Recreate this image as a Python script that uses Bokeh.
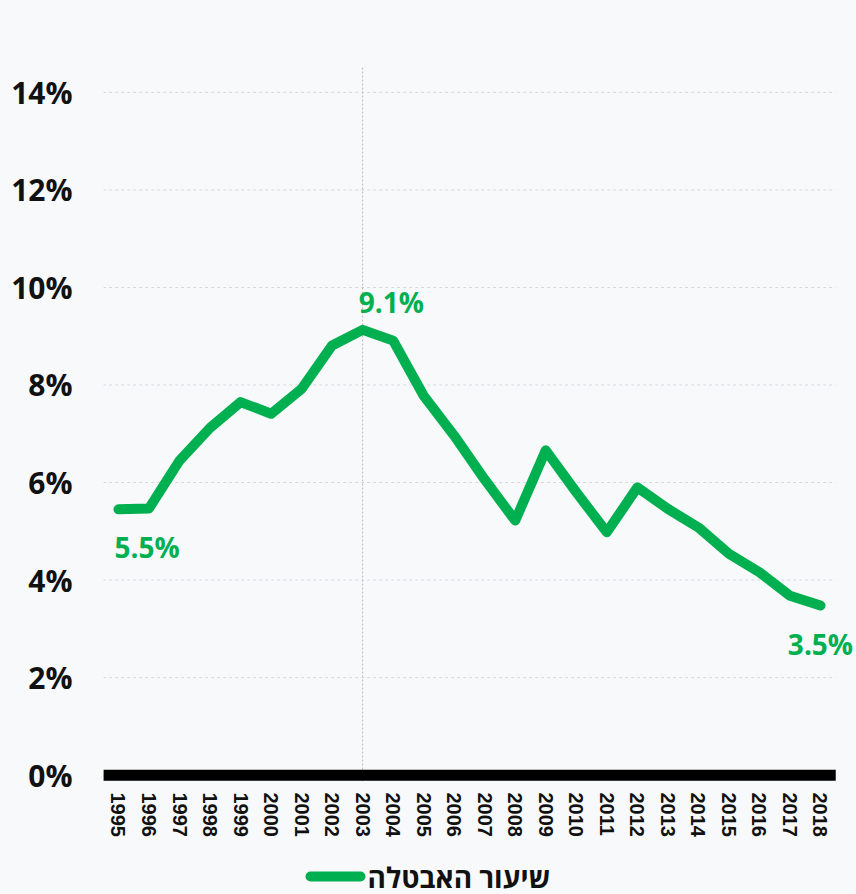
from bokeh.plotting import figure
from bokeh.layouts import column
from bokeh.models import FixedTicker, Span, ColumnDataSource, Range1d
from bokeh.core.properties import value
from bokeh.embed import file_html
from bokeh.resources import INLINE

# ---- data ----
years = list(range(1995, 2019))
rates = [5.45, 5.47, 6.45, 7.12, 7.65, 7.41, 7.92, 8.81, 9.13, 8.91, 7.78, 6.96,
         6.06, 5.22, 6.66, 5.80, 4.98, 5.90, 5.46, 5.08, 4.54, 4.16, 3.68, 3.48]
y_ticks = [0, 2, 4, 6, 8, 10, 12, 14]
y_tick_labels = ["0%", "2%", "4%", "6%", "8%", "10%", "12%", "14%"]
label_years = [1995, 2003, 2018]
label_texts = ["5.5%", "9.1%", "3.5%"]
series_name = "שיעור האבטלה"
highlight_year = 2003

# ---- style ----
BG = "#f8f9fb"
GREEN = "#00b050"
x_lo, x_hi = years[0] - 0.5, years[-1] + 0.5

fig = figure(width=856, height=850, x_range=(1994.51, 2019.18), y_range=(-0.13, 14.51),
             output_backend="svg", toolbar_location=None,
             background_fill_color=BG, border_fill_color=BG,
             min_border_left=103, min_border_right=0, min_border_top=67, min_border_bottom=69)
fig.outline_line_color = None
fig.xgrid.grid_line_color = None
fig.ygrid.grid_line_color = None

# dotted horizontal grid limited to the category band
fig.segment(x0=[x_lo] * len(y_ticks), x1=[x_hi] * len(y_ticks), y0=y_ticks, y1=y_ticks,
            line_color="#d6d8dc", line_dash="3 3", line_width=1, level="underlay")

# y axis
fig.yaxis.ticker = FixedTicker(ticks=y_ticks)
fig.yaxis.major_label_overrides = {t: l for t, l in zip(y_ticks, y_tick_labels)}
fig.yaxis.axis_line_color = None
fig.yaxis.major_tick_line_color = None
fig.yaxis.minor_tick_line_color = None
fig.yaxis.major_tick_out = 0
fig.yaxis.major_tick_in = 0
fig.yaxis.major_label_standoff = 31
fig.yaxis.major_label_text_font = "Open Sans"
fig.yaxis.major_label_text_font_style = "bold"
fig.yaxis.major_label_text_font_size = "30px"
fig.yaxis.major_label_text_color = "#111111"

# x axis (labels only; baseline bar drawn below)
fig.xaxis.ticker = FixedTicker(ticks=years)
fig.xaxis.major_label_overrides = {y: str(y) for y in years}
fig.xaxis.axis_line_color = None
fig.xaxis.major_tick_line_color = None
fig.xaxis.minor_tick_line_color = None
fig.xaxis.major_tick_out = 0
fig.xaxis.major_tick_in = 0
fig.xaxis.major_label_orientation = "vertical"
fig.xaxis.major_label_standoff = 11
fig.xaxis.major_label_text_font = "Liberation Sans"
fig.xaxis.major_label_text_font_style = "bold"
fig.xaxis.major_label_text_font_size = "20px"
fig.xaxis.major_label_text_color = "#111111"

# highlight vertical line
fig.add_layout(Span(location=highlight_year, dimension="height", line_color="#b5b7bb",
                    line_dash="2 2", line_width=1, level="underlay"))

# thick black baseline at 0
fig.segment(x0=[x_lo], x1=[x_hi], y0=[0], y1=[0], line_color="#000000",
            line_width=11, line_cap="butt")

src = ColumnDataSource(dict(x=years, y=rates))
fig.line("x", "y", source=src, line_color=GREEN, line_width=10,
         line_cap="round", line_join="round")

# data labels
label_vals = [rates[years.index(y)] for y in label_years]
label_styles = [
    dict(text_align="left", text_baseline="top", x_offset=-4, y_offset=19),
    dict(text_align="left", text_baseline="alphabetic", x_offset=-4, y_offset=-28),
    dict(text_align="center", text_baseline="top", x_offset=0, y_offset=20),
]
for yr, v, t, st in zip(label_years, label_vals, label_texts, label_styles):
    fig.text(x=[yr], y=[v], text=[t], text_color=GREEN, text_font=value("Open Sans"),
             text_font_style="bold", text_font_size="28px", **st)

# legend strip below the chart; its frame is aligned with the chart frame,
# so ranges are set to page-pixel coordinates (x: 103..856, y: 850..894 top-down)
leg = figure(width=856, height=44, x_range=Range1d(103, 856), y_range=Range1d(894, 850),
             output_backend="svg", toolbar_location=None,
             background_fill_color=BG, border_fill_color=BG,
             min_border_left=0, min_border_right=0, min_border_top=0, min_border_bottom=0)
leg.axis.visible = False
leg.grid.visible = False
leg.outline_line_color = None
leg.segment(x0=[310], x1=[360], y0=[876], y1=[876], line_color=GREEN, line_width=10,
            line_cap="round")
leg.text(x=[367], y=[876], text=[series_name], text_color="#111111",
         text_font=value("Open Sans"), text_font_style="bold", text_font_size="28px",
         text_align="left", text_baseline="middle", text_line_height=0.8)

p = column(fig, leg, spacing=0, background=BG)
open("out.html", "w").write(file_html(p, INLINE))
